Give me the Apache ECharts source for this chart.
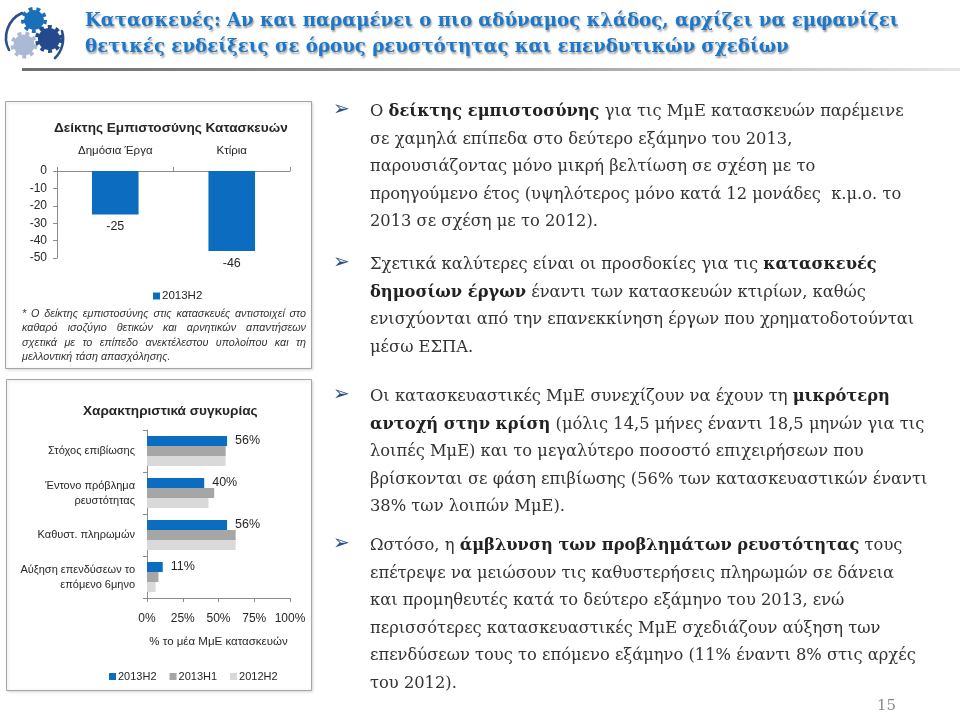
<!DOCTYPE html>
<html><head><meta charset="utf-8">
<script src="https://cdn.jsdelivr.net/npm/echarts@6/dist/echarts.min.js"></script>
<style>
html,body{margin:0;padding:0;background:#fff;}
body{width:960px;height:713px;overflow:hidden;position:relative;}
#chart{position:absolute;left:0;top:0;width:960px;height:713px;}
.abs{position:absolute;white-space:nowrap;}
#title{left:85px;top:7px;font-family:"DejaVu Serif",serif;font-weight:bold;font-size:18.2px;line-height:26px;color:#1b78cc;text-shadow:1px 2px 2px #9a9a9a;}
#rule{left:22px;top:68px;width:938px;height:3px;background:linear-gradient(to right,#6f6f6f,#9a9a9a 50%,#e6e6e6);}
#logo{left:0px;top:0px;}
.para{left:370px;font-family:"DejaVu Serif",serif;font-size:16.3px;line-height:27.6px;color:#333;}
.para b{color:#222;}
.bul{left:333px;font-family:"DejaVu Sans",sans-serif;font-size:20px;color:#2b4f8c;}
#note{left:22px;top:306px;width:284px;font-family:"Liberation Sans",Arial,sans-serif;font-style:italic;font-size:10.8px;line-height:14.4px;color:#333;}
#note div{text-align:justify;text-align-last:justify;}
#note div.last{text-align-last:left;}
#pg{left:877px;top:696px;font-family:"DejaVu Serif",serif;font-size:15px;color:#8a8a8a;}
</style></head><body>
<div id="chart"></div>
<svg id="logo" class="abs" width="84" height="66" viewBox="0 0 84 66">
  <path d="M22 13 A27 27 0 0 0 9 50" fill="none" stroke="#2b4f8c" stroke-width="2.6" stroke-linecap="round"/>
  <path d="M62 31 A27 27 0 0 1 55 58" fill="none" stroke="#2b4f8c" stroke-width="2.6" stroke-linecap="round"/>
  <circle cx="34" cy="20" r="10" fill="#1b6fb8" stroke="#1b6fb8" stroke-width="6" stroke-dasharray="3.5 3.5"/>
  <circle cx="24" cy="45" r="10.5" fill="#aabad6" stroke="#aabad6" stroke-width="6" stroke-dasharray="3.6 3.6"/>
  <circle cx="49" cy="39" r="11" fill="#24498c" stroke="#24498c" stroke-width="6" stroke-dasharray="3.6 3.6"/>
</svg>
<div id="title" class="abs">Κατασκευές: Αν και παραμένει ο πιο αδύναμος κλάδος, αρχίζει να εμφανίζει<br>θετικές ενδείξεις σε όρους ρευστότητας και επενδυτικών σχεδίων</div>
<div id="rule" class="abs"></div>

<div class="abs bul" style="top:96px">➢</div>
<div class="abs para" style="top:97px">Ο <b>δείκτης εμπιστοσύνης</b> για τις ΜμΕ κατασκευών παρέμεινε<br>σε χαμηλά επίπεδα στο δεύτερο εξάμηνο του 2013,<br>παρουσιάζοντας μόνο μικρή βελτίωση σε σχέση με το<br>προηγούμενο έτος (υψηλότερος μόνο κατά 12 μονάδες &nbsp;κ.μ.ο. το<br>2013 σε σχέση με το 2012).</div>
<div class="abs bul" style="top:249px">➢</div>
<div class="abs para" style="top:250px">Σχετικά καλύτερες είναι οι προσδοκίες για τις <b>κατασκευές</b><br><b>δημοσίων έργων</b> έναντι των κατασκευών κτιρίων, καθώς<br>ενισχύονται από την επανεκκίνηση έργων που χρηματοδοτούνται<br>μέσω ΕΣΠΑ.</div>
<div class="abs bul" style="top:381px">➢</div>
<div class="abs para" style="top:382px">Οι κατασκευαστικές ΜμΕ συνεχίζουν να έχουν τη <b>μικρότερη</b><br><b>αντοχή στην κρίση</b> (μόλις 14,5 μήνες έναντι 18,5 μηνών για τις<br>λοιπές ΜμΕ) και το μεγαλύτερο ποσοστό επιχειρήσεων που<br>βρίσκονται σε φάση επιβίωσης (56% των κατασκευαστικών έναντι<br>38% των λοιπών ΜμΕ).</div>
<div class="abs bul" style="top:530px">➢</div>
<div class="abs para" style="top:531px">Ωστόσο, η <b>άμβλυνση των προβλημάτων ρευστότητας</b> τους<br>επέτρεψε να μειώσουν τις καθυστερήσεις πληρωμών σε δάνεια<br>και προμηθευτές κατά το δεύτερο εξάμηνο του 2013, ενώ<br>περισσότερες κατασκευαστικές ΜμΕ σχεδιάζουν αύξηση των<br>επενδύσεων τους το επόμενο εξάμηνο (11% έναντι 8% στις αρχές<br>του 2012).</div>
<div id="pg" class="abs">15</div>

<div id="note" class="abs">
<div>* Ο δείκτης εμπιστοσύνης στις κατασκευές αντιστοιχεί στο</div>
<div>καθαρό ισοζύγιο θετικών και αρνητικών απαντήσεων</div>
<div>σχετικά με το επίπεδο ανεκτέλεστου υπολοίπου και τη</div>
<div class="last">μελλοντική τάση απασχόλησης.</div>
</div>

<script>
// ---- Chart 1: Δείκτης Εμπιστοσύνης Κατασκευών ----
const confCategories = ['Δημόσια Έργα', 'Κτίρια'];
const conf2013H2 = [-25, -46];
const confAxisMin = -50, confAxisMax = 0, confAxisStep = 10;

// ---- Chart 2: Χαρακτηριστικά συγκυρίας ----
const condCategories = ['Στόχος επιβίωσης', 'Έντονο πρόβλημα\nρευστότητας', 'Καθυστ. πληρωμών', 'Αύξηση επενδύσεων το\nεπόμενο 6μηνο'];
const cond2013H2 = [56, 40, 56, 11];
const cond2013H1 = [55, 47, 62, 8];
const cond2012H2 = [55, 43, 62, 6];
const condAxisMin = 0, condAxisMax = 100, condAxisStep = 25;

const FONT = '"Liberation Sans", Arial, sans-serif';
const TXT = '#262626';
const AX = '#8c8c8c';
const BLUE = '#0b6cc0', GREY = '#a6a6a6', LIGHT = '#d9d9d9';

const chart = echarts.init(document.getElementById('chart'), null, {renderer: 'canvas'});
chart.setOption({
  animation: false,
  textStyle: {fontFamily: FONT, color: TXT},
  title: [
    {text: 'Δείκτης Εμπιστοσύνης Κατασκευών', left: 49, top: 116,
     textStyle: {fontFamily: FONT, fontSize: 13.6, fontWeight: 'bold', color: TXT}},
    {text: 'Χαρακτηριστικά συγκυρίας', left: 78, top: 399,
     textStyle: {fontFamily: FONT, fontSize: 13.6, fontWeight: 'bold', color: TXT}}
  ],
  legend: [
    {data: ['2013H2'], left: 148, top: 285, itemWidth: 7, itemHeight: 7, itemGap: 12,
     icon: 'rect', textStyle: {fontFamily: FONT, fontSize: 11.5, color: TXT, padding: [0, 0, 0, -3]}},
    {data: ['2013H2', '2013H1', '2012H2'], left: 104, top: 666, itemWidth: 7, itemHeight: 7, itemGap: 13,
     icon: 'rect', textStyle: {fontFamily: FONT, fontSize: 11, color: TXT, padding: [0, 0, 0, -3]}}
  ],
  grid: [
    {left: 57, top: 171, width: 233, height: 87},
    {left: 147, top: 430, width: 143, height: 168}
  ],
  xAxis: [
    {type: 'category', gridIndex: 0, position: 'top', data: confCategories,
     axisLine: {lineStyle: {color: AX}}, axisTick: {show: true, length: 4, lineStyle: {color: AX}},
     axisLabel: {margin: 14, fontSize: 11.5, color: TXT, fontFamily: FONT}},
    {type: 'value', gridIndex: 1, min: condAxisMin, max: condAxisMax, interval: condAxisStep,
     axisLine: {show: true, lineStyle: {color: AX}}, axisTick: {show: true, length: 4, lineStyle: {color: AX}},
     splitLine: {show: false},
     axisLabel: {formatter: '{value}%', margin: 15, fontSize: 12, color: TXT, fontFamily: FONT},
     name: '% το μέα ΜμΕ κατασκευών', nameLocation: 'middle', nameGap: 38,
     nameTextStyle: {fontSize: 11.5, color: TXT, fontFamily: FONT}}
  ],
  yAxis: [
    {type: 'value', gridIndex: 0, min: confAxisMin, max: confAxisMax, interval: confAxisStep,
     axisLine: {show: true, lineStyle: {color: AX}}, axisTick: {show: true, length: 4, lineStyle: {color: AX}},
     splitLine: {show: false},
     axisLabel: {margin: 10, fontSize: 12, color: TXT, fontFamily: FONT}},
    {type: 'category', gridIndex: 1, inverse: true, data: condCategories,
     axisLine: {show: true, lineStyle: {color: AX}}, axisTick: {show: true, length: 4, lineStyle: {color: AX}},
     axisLabel: {margin: 12, fontSize: 11, lineHeight: 15, color: TXT, fontFamily: FONT, align: 'right'}}
  ],
  graphic: [
    {type: 'rect', shape: {x: 5.5, y: 101.5, width: 306, height: 267}, z: -10,
     style: {fill: '#fff', stroke: '#a6a6a6', lineWidth: 1, shadowBlur: 3, shadowColor: 'rgba(0,0,0,0.15)', shadowOffsetX: 1, shadowOffsetY: 1}},
    {type: 'rect', shape: {x: 6.5, y: 379.5, width: 305, height: 311}, z: -10,
     style: {fill: '#fff', stroke: '#a6a6a6', lineWidth: 1, shadowBlur: 3, shadowColor: 'rgba(0,0,0,0.15)', shadowOffsetX: 1, shadowOffsetY: 1}}
  ],
  series: [
    {name: '2013H2', type: 'bar', xAxisIndex: 0, yAxisIndex: 0, data: conf2013H2, barWidth: '40%',
     itemStyle: {color: BLUE},
     label: {show: true, position: 'bottom', distance: 6, fontSize: 12.5, color: TXT, fontFamily: FONT}},
    {name: '2013H2', type: 'bar', xAxisIndex: 1, yAxisIndex: 1, data: cond2013H2, barWidth: 10, barGap: '0%',
     itemStyle: {color: BLUE},
     label: {show: true, position: 'right', distance: 8, formatter: '{c}%', fontSize: 12.5, color: TXT, fontFamily: FONT}},
    {name: '2013H1', type: 'bar', xAxisIndex: 1, yAxisIndex: 1, data: cond2013H1, barWidth: 10, barGap: '0%',
     itemStyle: {color: GREY}},
    {name: '2012H2', type: 'bar', xAxisIndex: 1, yAxisIndex: 1, data: cond2012H2, barWidth: 10, barGap: '0%',
     itemStyle: {color: LIGHT}}
  ]
});
</script>
</body></html>
